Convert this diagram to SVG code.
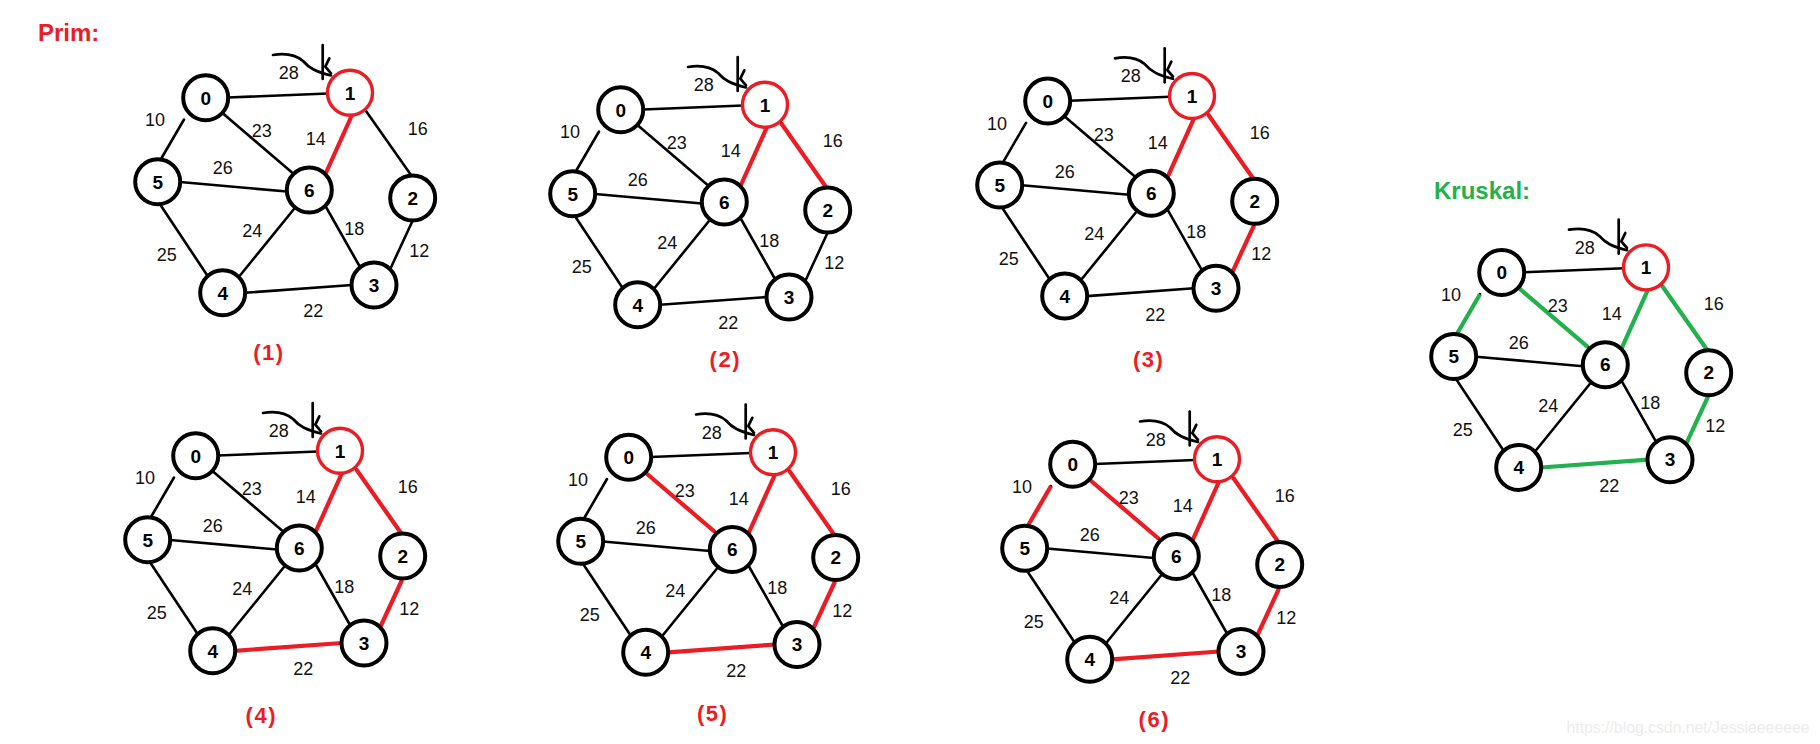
<svg xmlns="http://www.w3.org/2000/svg" width="1820" height="744" viewBox="0 0 1820 744">
<style>
.e{stroke:#000;stroke-width:2.6;stroke-linecap:round;fill:none}
.r{stroke:#ec1c24;stroke-width:4.2;stroke-linecap:butt;fill:none}
.g{stroke:#22b14c;stroke-width:4.2;stroke-linecap:butt;fill:none}
.a{stroke:#000;stroke-width:2.7;fill:none;stroke-linecap:round;stroke-linejoin:round}
.n{fill:#fff;stroke:#000;stroke-width:4}
.s{fill:#fff;stroke:#ec1c24;stroke-width:3.4}
.t{font-family:"Liberation Sans",Arial,sans-serif;font-weight:bold;font-size:19px;text-anchor:middle;fill:#000}
.w{font-family:"Liberation Sans",Arial,sans-serif;font-size:18px;text-anchor:middle;fill:#111}
.cap{font-family:"Liberation Sans",Arial,sans-serif;font-weight:bold;font-size:22px;letter-spacing:1.5px;text-anchor:middle;fill:#ec1c24}
.ttl{font-family:"Liberation Sans",Arial,sans-serif;font-weight:bold;font-size:24px}
</style>
<defs>
<g id="edges-base">
<line class="e" x1="228" y1="97.5" x2="328" y2="93.5"/>
<line class="e" x1="184" y1="119.5" x2="161" y2="159"/>
<line class="e" x1="223" y1="113.5" x2="292" y2="172.5"/>
<line class="e" x1="352" y1="115" x2="325" y2="175"/>
<line class="e" x1="366" y1="111" x2="411" y2="175"/>
<line class="e" x1="180" y1="182" x2="287" y2="191.5"/>
<line class="e" x1="160.5" y1="205" x2="207" y2="275"/>
<line class="e" x1="294" y1="209" x2="240" y2="275.5"/>
<line class="e" x1="326" y1="207" x2="360" y2="267"/>
<line class="e" x1="412" y1="222" x2="390.5" y2="268.5"/>
<line class="e" x1="245" y1="292.8" x2="352" y2="285"/>
<path class="a" d="M273,55 C285,53 296,55 303,61 C309,68 316,72 331,75.5"/>
<path class="a" d="M322.7,45 V79"/>
<path class="a" d="M329.3,58.3 L325.3,66.7 L331,73.3"/>
</g>
<g id="labels-base">
<text class="w" x="288.7" y="79">28</text>
<text class="w" x="155" y="126.4">10</text>
<text class="w" x="261.7" y="137.4">23</text>
<text class="w" x="315.7" y="145.4">14</text>
<text class="w" x="222.7" y="174.4">26</text>
<text class="w" x="252.3" y="237">24</text>
<text class="w" x="354.3" y="234.7">18</text>
<text class="w" x="166.7" y="261.4">25</text>
<text class="w" x="313.3" y="317.4">22</text>
<text class="w" x="417.7" y="135.4">16</text>
<text class="w" x="419.3" y="257">12</text>
</g>
<line id="h01" x1="228" y1="97.5" x2="328" y2="93.5"/>
<line id="h05" x1="184" y1="119.5" x2="161" y2="159"/>
<line id="h06" x1="223" y1="113.5" x2="292" y2="172.5"/>
<line id="h16" x1="352" y1="115" x2="325" y2="175"/>
<line id="h12" x1="366" y1="111" x2="411" y2="175"/>
<line id="h23" x1="412" y1="222" x2="390.5" y2="268.5"/>
<line id="h43" x1="245" y1="292.8" x2="352" y2="285"/>
</defs>

<text class="ttl" x="38" y="40.7" fill="#ec1c24">Prim:</text>
<text class="ttl" x="1434" y="199.3" fill="#22b14c">Kruskal:</text>

<!-- Graph (1) -->
<g id="prim1">
<g id="prim1-connectors">
<use href="#edges-base"/>
<use href="#h16" class="r"/>
<use href="#labels-base"/>
</g>
<g id="prim1-n0"><circle class="n" cx="205.7" cy="97.7" r="22.5"/><text class="t" x="205.7" y="104.5">0</text></g>
<g id="prim1-n1"><circle class="s" cx="350" cy="92.7" r="22.5"/><text class="t" x="350" y="99.5">1</text></g>
<g id="prim1-n2"><circle class="n" cx="412.7" cy="198" r="22.5"/><text class="t" x="412.7" y="204.8">2</text></g>
<g id="prim1-n3"><circle class="n" cx="374" cy="285" r="22.5"/><text class="t" x="374" y="291.8">3</text></g>
<g id="prim1-n4"><circle class="n" cx="222.7" cy="292.7" r="22.5"/><text class="t" x="222.7" y="299.5">4</text></g>
<g id="prim1-n5"><circle class="n" cx="157.7" cy="181.7" r="22.5"/><text class="t" x="157.7" y="188.5">5</text></g>
<g id="prim1-n6"><circle class="n" cx="309.3" cy="190" r="22.5"/><text class="t" x="309.3" y="196.8">6</text></g>
</g>
<text class="cap" x="269" y="360">(1)</text>

<!-- Graph (2) -->
<g id="prim2" transform="translate(415,12)">
<g id="prim2-connectors">
<use href="#edges-base"/>
<use href="#h16" class="r"/>
<use href="#h12" class="r"/>
<use href="#labels-base"/>
</g>
<g id="prim2-n0"><circle class="n" cx="205.7" cy="97.7" r="22.5"/><text class="t" x="205.7" y="104.5">0</text></g>
<g id="prim2-n1"><circle class="s" cx="350" cy="92.7" r="22.5"/><text class="t" x="350" y="99.5">1</text></g>
<g id="prim2-n2"><circle class="n" cx="412.7" cy="198" r="22.5"/><text class="t" x="412.7" y="204.8">2</text></g>
<g id="prim2-n3"><circle class="n" cx="374" cy="285" r="22.5"/><text class="t" x="374" y="291.8">3</text></g>
<g id="prim2-n4"><circle class="n" cx="222.7" cy="292.7" r="22.5"/><text class="t" x="222.7" y="299.5">4</text></g>
<g id="prim2-n5"><circle class="n" cx="157.7" cy="181.7" r="22.5"/><text class="t" x="157.7" y="188.5">5</text></g>
<g id="prim2-n6"><circle class="n" cx="309.3" cy="190" r="22.5"/><text class="t" x="309.3" y="196.8">6</text></g>
</g>
<text class="cap" x="725.3" y="366.7">(2)</text>

<!-- Graph (3) -->
<g id="prim3" transform="translate(842,3.3)">
<g id="prim3-connectors">
<use href="#edges-base"/>
<use href="#h16" class="r"/>
<use href="#h12" class="r"/>
<use href="#h23" class="r"/>
<use href="#labels-base"/>
</g>
<g id="prim3-n0"><circle class="n" cx="205.7" cy="97.7" r="22.5"/><text class="t" x="205.7" y="104.5">0</text></g>
<g id="prim3-n1"><circle class="s" cx="350" cy="92.7" r="22.5"/><text class="t" x="350" y="99.5">1</text></g>
<g id="prim3-n2"><circle class="n" cx="412.7" cy="198" r="22.5"/><text class="t" x="412.7" y="204.8">2</text></g>
<g id="prim3-n3"><circle class="n" cx="374" cy="285" r="22.5"/><text class="t" x="374" y="291.8">3</text></g>
<g id="prim3-n4"><circle class="n" cx="222.7" cy="292.7" r="22.5"/><text class="t" x="222.7" y="299.5">4</text></g>
<g id="prim3-n5"><circle class="n" cx="157.7" cy="181.7" r="22.5"/><text class="t" x="157.7" y="188.5">5</text></g>
<g id="prim3-n6"><circle class="n" cx="309.3" cy="190" r="22.5"/><text class="t" x="309.3" y="196.8">6</text></g>
</g>
<text class="cap" x="1148.7" y="366.5">(3)</text>

<!-- Graph (4) -->
<g id="prim4" transform="translate(-10,358)">
<g id="prim4-connectors">
<use href="#edges-base"/>
<use href="#h16" class="r"/>
<use href="#h12" class="r"/>
<use href="#h23" class="r"/>
<use href="#h43" class="r"/>
<use href="#labels-base"/>
</g>
<g id="prim4-n0"><circle class="n" cx="205.7" cy="97.7" r="22.5"/><text class="t" x="205.7" y="104.5">0</text></g>
<g id="prim4-n1"><circle class="s" cx="350" cy="92.7" r="22.5"/><text class="t" x="350" y="99.5">1</text></g>
<g id="prim4-n2"><circle class="n" cx="412.7" cy="198" r="22.5"/><text class="t" x="412.7" y="204.8">2</text></g>
<g id="prim4-n3"><circle class="n" cx="374" cy="285" r="22.5"/><text class="t" x="374" y="291.8">3</text></g>
<g id="prim4-n4"><circle class="n" cx="222.7" cy="292.7" r="22.5"/><text class="t" x="222.7" y="299.5">4</text></g>
<g id="prim4-n5"><circle class="n" cx="157.7" cy="181.7" r="22.5"/><text class="t" x="157.7" y="188.5">5</text></g>
<g id="prim4-n6"><circle class="n" cx="309.3" cy="190" r="22.5"/><text class="t" x="309.3" y="196.8">6</text></g>
</g>
<text class="cap" x="261.3" y="723.3">(4)</text>

<!-- Graph (5) -->
<g id="prim5" transform="translate(423,359.5)">
<g id="prim5-connectors">
<use href="#edges-base"/>
<use href="#h16" class="r"/>
<use href="#h12" class="r"/>
<use href="#h23" class="r"/>
<use href="#h43" class="r"/>
<use href="#h06" class="r"/>
<use href="#labels-base"/>
</g>
<g id="prim5-n0"><circle class="n" cx="205.7" cy="97.7" r="22.5"/><text class="t" x="205.7" y="104.5">0</text></g>
<g id="prim5-n1"><circle class="s" cx="350" cy="92.7" r="22.5"/><text class="t" x="350" y="99.5">1</text></g>
<g id="prim5-n2"><circle class="n" cx="412.7" cy="198" r="22.5"/><text class="t" x="412.7" y="204.8">2</text></g>
<g id="prim5-n3"><circle class="n" cx="374" cy="285" r="22.5"/><text class="t" x="374" y="291.8">3</text></g>
<g id="prim5-n4"><circle class="n" cx="222.7" cy="292.7" r="22.5"/><text class="t" x="222.7" y="299.5">4</text></g>
<g id="prim5-n5"><circle class="n" cx="157.7" cy="181.7" r="22.5"/><text class="t" x="157.7" y="188.5">5</text></g>
<g id="prim5-n6"><circle class="n" cx="309.3" cy="190" r="22.5"/><text class="t" x="309.3" y="196.8">6</text></g>
</g>
<text class="cap" x="712.7" y="721">(5)</text>

<!-- Graph (6) -->
<g id="prim6" transform="translate(867,366.5)">
<g id="prim6-connectors">
<use href="#edges-base"/>
<use href="#h16" class="r"/>
<use href="#h12" class="r"/>
<use href="#h23" class="r"/>
<use href="#h43" class="r"/>
<use href="#h06" class="r"/>
<use href="#h05" class="r"/>
<use href="#labels-base"/>
</g>
<g id="prim6-n0"><circle class="n" cx="205.7" cy="97.7" r="22.5"/><text class="t" x="205.7" y="104.5">0</text></g>
<g id="prim6-n1"><circle class="s" cx="350" cy="92.7" r="22.5"/><text class="t" x="350" y="99.5">1</text></g>
<g id="prim6-n2"><circle class="n" cx="412.7" cy="198" r="22.5"/><text class="t" x="412.7" y="204.8">2</text></g>
<g id="prim6-n3"><circle class="n" cx="374" cy="285" r="22.5"/><text class="t" x="374" y="291.8">3</text></g>
<g id="prim6-n4"><circle class="n" cx="222.7" cy="292.7" r="22.5"/><text class="t" x="222.7" y="299.5">4</text></g>
<g id="prim6-n5"><circle class="n" cx="157.7" cy="181.7" r="22.5"/><text class="t" x="157.7" y="188.5">5</text></g>
<g id="prim6-n6"><circle class="n" cx="309.3" cy="190" r="22.5"/><text class="t" x="309.3" y="196.8">6</text></g>
</g>
<text class="cap" x="1154.3" y="727">(6)</text>

<!-- Kruskal -->
<g id="kruskal" transform="translate(1296,174.7)">
<g id="kruskal-connectors">
<use href="#edges-base"/>
<use href="#h16" class="g"/>
<use href="#h12" class="g"/>
<use href="#h23" class="g"/>
<use href="#h43" class="g"/>
<use href="#h06" class="g"/>
<use href="#h05" class="g"/>
<use href="#labels-base"/>
</g>
<g id="kruskal-n0"><circle class="n" cx="205.7" cy="97.7" r="22.5"/><text class="t" x="205.7" y="104.5">0</text></g>
<g id="kruskal-n1"><circle class="s" cx="350" cy="92.7" r="22.5"/><text class="t" x="350" y="99.5">1</text></g>
<g id="kruskal-n2"><circle class="n" cx="412.7" cy="198" r="22.5"/><text class="t" x="412.7" y="204.8">2</text></g>
<g id="kruskal-n3"><circle class="n" cx="374" cy="285" r="22.5"/><text class="t" x="374" y="291.8">3</text></g>
<g id="kruskal-n4"><circle class="n" cx="222.7" cy="292.7" r="22.5"/><text class="t" x="222.7" y="299.5">4</text></g>
<g id="kruskal-n5"><circle class="n" cx="157.7" cy="181.7" r="22.5"/><text class="t" x="157.7" y="188.5">5</text></g>
<g id="kruskal-n6"><circle class="n" cx="309.3" cy="190" r="22.5"/><text class="t" x="309.3" y="196.8">6</text></g>
</g>

<text x="1566.5" y="733" font-family="'Liberation Sans',Arial,sans-serif" font-size="16" fill="#ececec" textLength="243" lengthAdjust="spacingAndGlyphs">https://blog.csdn.net/Jessieeeeeee</text>
</svg>
